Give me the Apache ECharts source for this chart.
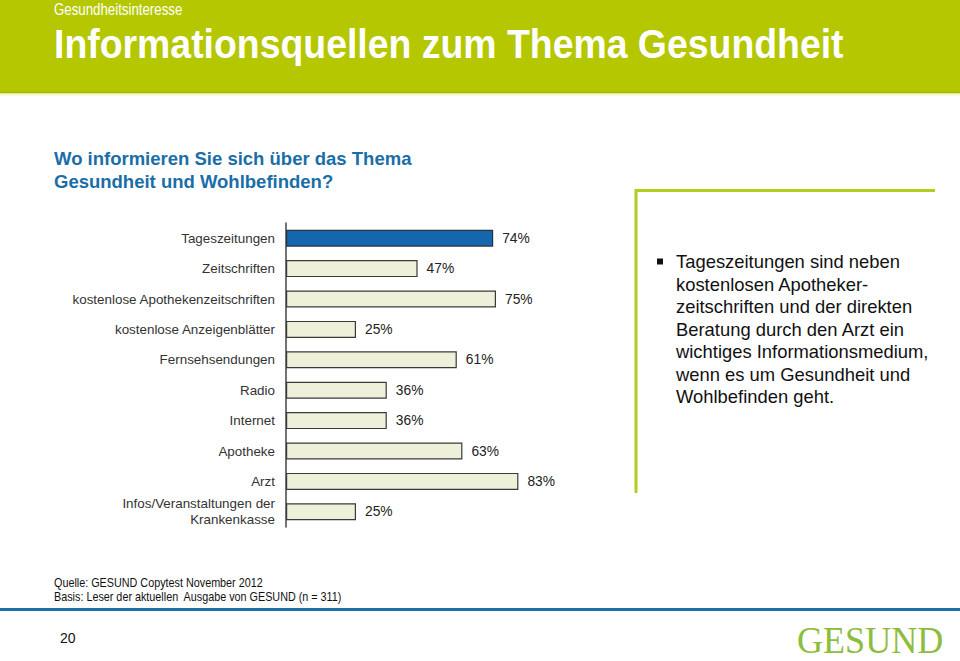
<!DOCTYPE html>
<html>
<head>
<meta charset="utf-8">
<script src="https://cdn.jsdelivr.net/npm/echarts@6/dist/echarts.min.js"></script>
<style>
html,body{margin:0;padding:0;background:#fff;}
#chart{width:960px;height:661px;}
</style>
</head>
<body>
<div id="chart"></div>
<script>
var categories = [
  'Tageszeitungen',
  'Zeitschriften',
  'kostenlose Apothekenzeitschriften',
  'kostenlose Anzeigenblätter',
  'Fernsehsendungen',
  'Radio',
  'Internet',
  'Apotheke',
  'Arzt',
  'Infos/Veranstaltungen der\nKrankenkasse'
];
var values = [74, 47, 75, 25, 61, 36, 36, 63, 83, 25];
var highlightIndex = 0;

var kicker = 'Gesundheitsinteresse';
var headline = 'Informationsquellen zum Thema Gesundheit';
var question = 'Wo informieren Sie sich über das Thema\nGesundheit und Wohlbefinden?';
var bulletText = 'Tageszeitungen sind neben\nkostenlosen Apotheker-\nzeitschriften und der direkten\nBeratung durch den Arzt ein\nwichtiges Informationsmedium,\nwenn es um Gesundheit und\nWohlbefinden geht.';
var sourceText = 'Quelle: GESUND Copytest November 2012';
var baseText = 'Basis: Leser der aktuellen  Ausgabe von GESUND (n = 311)';
var pageNumber = '20';
var logoText = 'GESUND';

var chart = echarts.init(document.getElementById('chart'), null, {renderer: 'svg'});
var FONT = 'Liberation Sans, Arial, sans-serif';

var barData = values.map(function (v, i) {
  return {
    value: v,
    itemStyle: i === highlightIndex
      ? {color: '#1467ac', borderColor: '#2a3440', borderWidth: 1.2}
      : {color: '#eef0d9', borderColor: '#3a3a3a', borderWidth: 1.2}
  };
});

var option = {
  backgroundColor: '#ffffff',
  animation: false,
  grid: {left: 286, top: 223, width: 280, height: 304},
  xAxis: {
    type: 'value', min: 0, max: 100,
    show: false
  },
  yAxis: {
    type: 'category',
    data: categories,
    inverse: true,
    axisLine: {show: true, lineStyle: {color: '#444', width: 1.5}},
    axisTick: {show: false},
    axisLabel: {fontFamily: FONT, fontSize: 13.4, color: '#333', margin: 11, lineHeight: 16, align: 'right'},
    splitLine: {show: false}
  },
  series: [{
    type: 'bar',
    data: barData,
    barWidth: 17,
    label: {
      show: true, position: 'right', distance: 9,
      formatter: '{c}%',
      fontFamily: FONT, fontSize: 13.8, color: '#222'
    }
  }],
  graphic: [
    {type: 'rect', shape: {x: 0, y: 0, width: 960, height: 92}, style: {fill: '#b4c700'}, silent: true},
    {type: 'rect', shape: {x: 0, y: 92, width: 960, height: 1.5}, style: {fill: '#a3b600'}, silent: true},
    {type: 'rect', shape: {x: 0, y: 93.5, width: 960, height: 2}, style: {fill: '#f3f6c4'}, silent: true},
    {type: 'text', x: 54, y: 2, scaleX: 0.83,
      style: {text: kicker, fill: '#ffffff', font: '16px ' + FONT, textVerticalAlign: 'top'}},
    {type: 'text', x: 54, y: 24, scaleX: 0.935,
      style: {text: headline, fill: '#ffffff', font: 'bold 40px ' + FONT, textVerticalAlign: 'top'}},
    {type: 'text', x: 54, y: 147,
      style: {text: question, fill: '#1a6ea8', font: 'bold 18.5px ' + FONT, lineHeight: 23, textVerticalAlign: 'top'}},
    {type: 'polyline', shape: {points: [[636, 493], [636, 190.5], [935, 190.5]]},
      style: {stroke: '#b3cc1e', lineWidth: 3, fill: null}, silent: true},
    {type: 'rect', shape: {x: 657, y: 258.5, width: 6, height: 6}, style: {fill: '#111'}, silent: true},
    {type: 'text', x: 676, y: 250.5,
      style: {text: bulletText, fill: '#111', font: '18.4px ' + FONT, lineHeight: 22.5, textVerticalAlign: 'top'}},
    {type: 'text', x: 54, y: 577, scaleX: 0.9,
      style: {text: sourceText, fill: '#111', font: '12px ' + FONT, textVerticalAlign: 'top'}},
    {type: 'text', x: 54, y: 591, scaleX: 0.9,
      style: {text: baseText, fill: '#111', font: '12px ' + FONT, textVerticalAlign: 'top'}},
    {type: 'rect', shape: {x: 0, y: 608, width: 960, height: 3}, style: {fill: '#1d6fa6'}, silent: true},
    {type: 'text', x: 60, y: 631,
      style: {text: pageNumber, fill: '#111', font: '14px ' + FONT, textVerticalAlign: 'top'}},
    {type: 'text', x: 797, y: 640, scaleX: 0.95,
      style: {text: logoText, fill: '#8dbd3c', font: '38px Liberation Serif, Times New Roman, serif', textVerticalAlign: 'middle'}}
  ]
};
chart.setOption(option);
</script>
</body>
</html>
